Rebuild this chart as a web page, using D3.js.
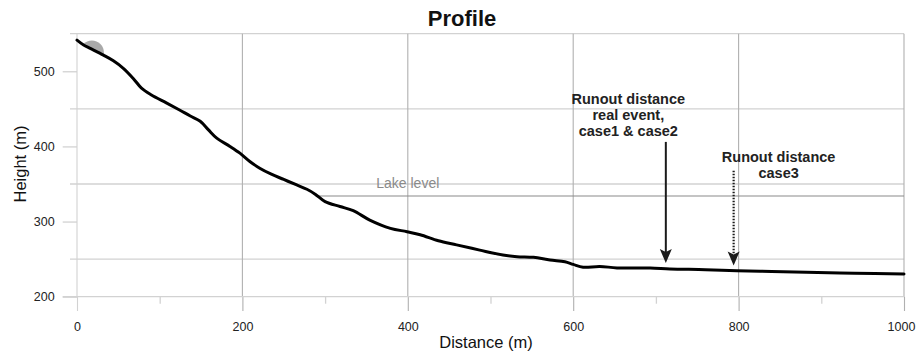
<!DOCTYPE html>
<html>
<head>
<meta charset="utf-8">
<script src="https://cdn.jsdelivr.net/npm/d3@7/dist/d3.min.js"></script>
<style>
  html, body { margin: 0; padding: 0; background: #fff; }
  svg { display: block; font-family: "Liberation Sans", Arial, sans-serif; }
</style>
</head>
<body>
<svg id="chart" width="916" height="355"></svg>
<script>
// Terrain profile: distance along the slope (m) and ground height (m)
const distance = [0, 8, 16, 32, 44, 56, 68, 78, 90, 108, 124, 137, 149, 159, 169, 185, 197, 209, 221, 235,
  250, 265, 278, 288, 300, 318, 334, 354, 379, 399, 415, 437, 459, 487, 515, 532, 552, 572, 590,
  600, 612, 632, 653, 693, 717, 760, 798, 840, 882, 940, 1000];
const height = [541.5, 535, 530.5, 521.5, 514, 504, 490.5, 477.5, 468.5, 458, 448.5, 440.5, 433.5, 422, 411, 400, 391, 380, 371, 363,
  356, 349, 343, 336.5, 326.5, 320, 314.5, 302, 291, 286.5, 282.5, 274.5, 269, 262, 255.5, 253.3, 252.4, 248.8, 246.6,
  243, 239.2, 240.3, 238.3, 238.2, 237, 236, 234.6, 233.5, 232.5, 231.3, 230.2];

// Axis ticks
const xMajorTicks = [0, 200, 400, 600, 800, 1000];
const xMinorTicks = [100, 300, 500, 700, 900];
const yMajorTicks = [200, 300, 400, 500];
const yMinorTicks = [250, 350, 450, 550];

// Lake surface
const lakeLevel = 334;
const lakeStart = 292;
const lakeLabel = "Lake level";

// Block at the release point
const blockDistance = 18;
const blockHeight = 525;

// Runout arrows: x position, arrow top and arrow tip heights
const runoutNames = ["real", "case3"];
const runoutDistance = [712, 794];
const runoutTop = [406, 367.7];
const runoutTip = [244.8, 241.6];
const runoutText = [["Runout distance", "real event,", "case1 & case2"], ["Runout distance", "case3"]];

const svg = d3.select("#chart");
const x = d3.scaleLinear().domain([0, 1000]).range([77, 904]);
const y = d3.scaleLinear().domain([200, 550]).range([296.7, 33.7]);

const gridLight = "#d2d2d2";
const gridDark = "#b0b0b0";

// Horizontal grid lines at the half-hundreds
svg.append("g").selectAll("line").data(yMinorTicks).join("line")
  .attr("x1", x(0) - 7).attr("x2", x(1000))
  .attr("y1", d => y(d)).attr("y2", d => y(d))
  .attr("stroke", gridLight).attr("stroke-width", 1.3);

// Vertical grid lines at the major distances
svg.append("g").selectAll("line").data(xMajorTicks).join("line")
  .attr("x1", d => x(d)).attr("x2", d => x(d))
  .attr("y1", y(550)).attr("y2", y(200))
  .attr("stroke", d => d === 0 ? gridLight : gridDark).attr("stroke-width", 1.1);

// Y axis
const yAxis = svg.append("g").attr("transform", `translate(${x(0)},0)`)
  .call(d3.axisLeft(y).tickValues(yMajorTicks).tickSize(14.3).tickPadding(8).tickFormat(d3.format("d")));
yAxis.select(".domain").remove();
yAxis.selectAll(".tick line").attr("stroke", gridLight).attr("stroke-width", 1.3);
yAxis.selectAll(".tick text").attr("font-size", 12.5).attr("fill", "#222")
  .attr("font-family", "Liberation Sans, Arial, sans-serif");

// X axis with long major ticks and short minor ticks
const xAxis = svg.append("g").attr("transform", `translate(0,${y(200)})`)
  .call(d3.axisBottom(x).tickValues(xMajorTicks).tickSize(14.3).tickPadding(11).tickFormat(d3.format("d")));
xAxis.select(".domain").remove();
xAxis.selectAll(".tick line").attr("stroke", (d) => d === 0 ? gridLight : gridDark).attr("stroke-width", 1.1);
xAxis.selectAll(".tick text").attr("font-size", 12.5).attr("fill", "#222")
  .attr("font-family", "Liberation Sans, Arial, sans-serif")
  .attr("dx", d => d === 1000 ? -3 : 0);

const xMinor = svg.append("g").attr("transform", `translate(0,${y(200)})`)
  .call(d3.axisBottom(x).tickValues(xMinorTicks).tickSize(7).tickFormat(""));
xMinor.select(".domain").remove();
xMinor.selectAll(".tick line").attr("stroke", gridLight).attr("stroke-width", 1.3);

// Baseline at 200 m
svg.append("line")
  .attr("x1", x(0) - 14.3).attr("x2", x(1000))
  .attr("y1", y(200)).attr("y2", y(200))
  .attr("stroke", gridLight).attr("stroke-width", 1.3);

// Lake level line and label
svg.append("line")
  .attr("x1", x(lakeStart)).attr("x2", x(1000))
  .attr("y1", y(lakeLevel)).attr("y2", y(lakeLevel))
  .attr("stroke", "#8a8a8a").attr("stroke-width", 1.2);
svg.append("text")
  .attr("x", x(400)).attr("y", y(lakeLevel) - 8)
  .attr("text-anchor", "middle").attr("font-size", 14).attr("fill", "#8a8a8a")
  .text(lakeLabel);

const profile = distance.map((d, i) => ({ d, h: height[i] }));
const curve = d3.curveCatmullRom.alpha(0.5);

// Block resting on the slope, clipped to the air above the ground
svg.append("clipPath").attr("id", "above-ground")
  .append("path")
  .attr("d", d3.area().x(p => x(p.d)).y0(0).y1(p => y(p.h)).curve(curve)(profile));
svg.append("circle")
  .attr("cx", x(blockDistance)).attr("cy", y(blockHeight)).attr("r", 12)
  .attr("fill", "#a9a9a9").attr("clip-path", "url(#above-ground)");

// Ground profile
svg.append("path")
  .datum(profile)
  .attr("d", d3.line().x(p => x(p.d)).y(p => y(p.h)).curve(curve))
  .attr("fill", "none").attr("stroke", "#000").attr("stroke-width", 3)
  .attr("stroke-linejoin", "round").attr("stroke-linecap", "round");

// Runout arrows
const headPath = "M0,0 L-6,-14 L0,-11 L6,-14 Z";
runoutNames.forEach((name, i) => {
  const ax = x(runoutDistance[i]);
  const yTop = y(runoutTop[i]);
  const yTip = y(runoutTip[i]);
  svg.append("line")
    .attr("x1", ax).attr("x2", ax).attr("y1", yTop).attr("y2", yTip - 11)
    .attr("stroke", "#1a1a1a").attr("stroke-width", i === 0 ? 2 : 2.2)
    .attr("stroke-dasharray", i === 0 ? null : "1.6,1.4");
  svg.append("path").attr("d", headPath)
    .attr("transform", `translate(${ax},${yTip})`).attr("fill", "#1a1a1a");
});

// Runout labels
const label1 = svg.append("text")
  .attr("text-anchor", "middle").attr("font-size", 14.5).attr("font-weight", "bold").attr("fill", "#222");
runoutText[0].forEach((t, k) => {
  label1.append("tspan").attr("x", x(runoutDistance[0]) - 37.5).attr("y", 104 + k * 16).text(t);
});
const label2 = svg.append("text")
  .attr("text-anchor", "middle").attr("font-size", 14.5).attr("font-weight", "bold").attr("fill", "#222");
runoutText[1].forEach((t, k) => {
  label2.append("tspan").attr("x", x(runoutDistance[1]) + 45).attr("y", 161.7 + k * 16.3).text(t);
});

// Title and axis titles
svg.append("text").attr("x", 462).attr("y", 26).attr("text-anchor", "middle")
  .attr("font-size", 22).attr("font-weight", "bold").attr("fill", "#111").text("Profile");
svg.append("text").attr("x", 486).attr("y", 348).attr("text-anchor", "middle")
  .attr("font-size", 16.5).attr("fill", "#111").text("Distance (m)");
svg.append("text").attr("transform", "translate(26,164) rotate(-90)").attr("text-anchor", "middle")
  .attr("font-size", 16.5).attr("fill", "#111").text("Height (m)");
</script>
</body>
</html>
